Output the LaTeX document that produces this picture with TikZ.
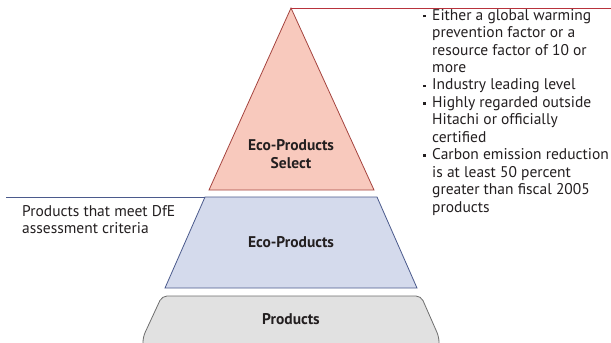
\documentclass[tikz,border=0pt]{standalone}
\usepackage{fontspec}
\setmainfont{PT Sans}
\definecolor{selfill}{HTML}{F8C9BD}
\definecolor{seldraw}{HTML}{A5443F}
\definecolor{redline}{HTML}{B8333C}
\definecolor{ecofill}{HTML}{D4DAEC}
\definecolor{ecodraw}{HTML}{4B5A8C}
\definecolor{prodfill}{HTML}{E1E1E1}
\definecolor{proddraw}{HTML}{6E6E6E}
\definecolor{txt}{HTML}{231F20}
\tikzset{
  lvlabel/.style={font=\fontsize{15.5}{18}\selectfont\bfseries, text=txt, align=center, inner sep=0pt},
  note/.style={font=\fontsize{15.5}{17.45}\selectfont, text=txt, align=left, inner sep=0pt},
}
\newcommand{\bsq}{\makebox[9pt][l]{\raisebox{2.8pt}{\rule{2.6pt}{2.6pt}}}}
\newcommand{\bind}{\hspace*{9pt}}
\begin{document}
\begin{tikzpicture}[x=1pt,y=-1pt]
\useasboundingbox (0,0) rectangle (611,343);
% coordinates
\coordinate (apex) at (291,8);
\coordinate (tl) at (209,190);
\coordinate (tr) at (374,190);
\coordinate (lineend) at (611,8);
\coordinate (etl) at (205,197);
\coordinate (etr) at (377,197);
\coordinate (ebl) at (165,288);
\coordinate (ebr) at (417,288);
\coordinate (blueend) at (6,197);
% products base
\draw[fill=prodfill, draw=proddraw, line width=0.8pt, rounded corners=5pt]
  (162,296) -- (421,296) -- (439,337) -- (439,352) -- (143,352) -- (143,337) -- cycle;
% eco-products
\draw[fill=ecofill, draw=ecodraw, line width=0.8pt] (etl) -- (etr) -- (ebr) -- (ebl) -- cycle;
% select triangle
\draw[fill=selfill, draw=seldraw, line width=0.8pt] (apex) -- (tr) -- (tl) -- cycle;
% leader lines
\draw[redline, line width=0.8pt] (apex) -- (lineend);
\draw[ecodraw, line width=0.8pt] (etl) -- (blueend);
% labels
\node[lvlabel] (sel) at (291,154) {Eco-Products\\Select};
\node[lvlabel] (eco) at (291,242) {Eco-Products};
\node[lvlabel] (prod) at (291,319) {Products};
\node[note, anchor=north west] (crit) at (22,205) {Products that meet DfE\\assessment criteria};
\node[note, anchor=north west] (sel-notes) at (423,9) {%
\bsq Either a global warming\\
\bind prevention factor or a\\
\bind resource factor of 10 or\\
\bind more\\
\bsq Industry leading level\\
\bsq Highly regarded outside\\
\bind Hitachi or officially\\
\bind certified\\
\bsq Carbon emission reduction\\
\bind is at least 50 percent\\
\bind greater than fiscal 2005\\
\bind products};
\end{tikzpicture}
\end{document}
